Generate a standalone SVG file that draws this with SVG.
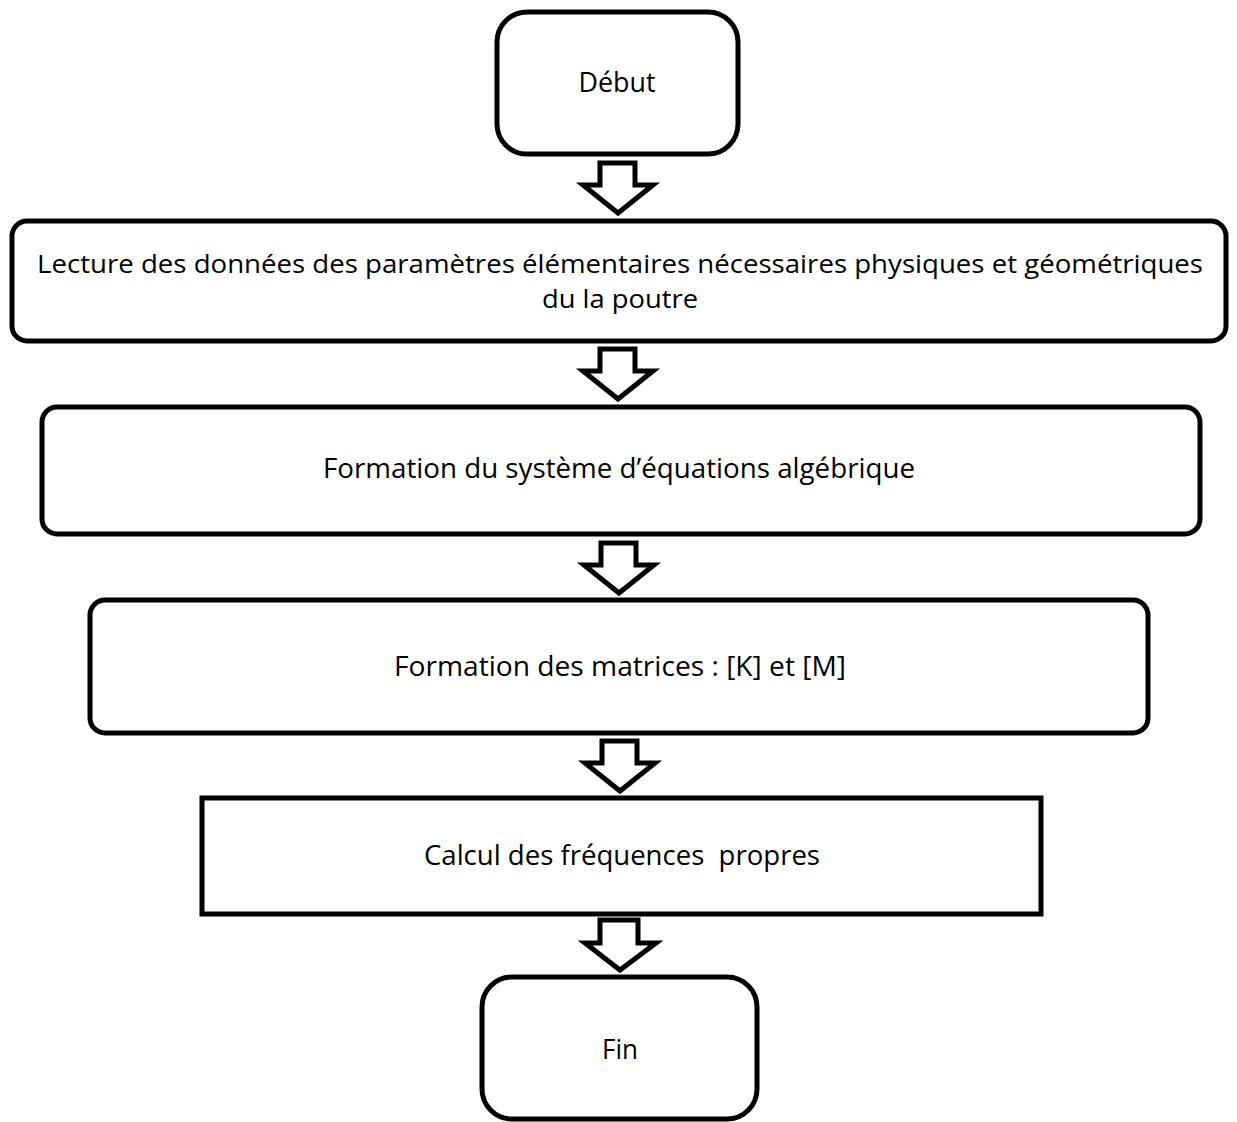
<svg xmlns="http://www.w3.org/2000/svg" width="1237" height="1122" viewBox="0 0 1237 1122">
<style>
.box{fill:#fff;stroke:#000;stroke-width:5}
.arr{fill:#fff;stroke:#000;stroke-width:5;stroke-linejoin:miter}
.t{font-family:"Open Sans","Liberation Sans",sans-serif;font-size:27px;fill:#000;text-anchor:middle}
.s{font-size:26px}
</style>
<rect width="1237" height="1122" fill="#fff"/>
<g id="connectors">
<path class="arr" d="M600,163 H635 V185 H653 L618,213 L583,185 H600 Z"/>
<path class="arr" d="M600,349 H635 V371 H653 L618,399 L583,371 H600 Z"/>
<path class="arr" d="M601,543 H636 V565 H654 L619,593 L584,565 H601 Z"/>
<path class="arr" d="M602,741 H637 V763 H655 L620,791 L585,763 H602 Z"/>
<path class="arr" d="M600,920 H638 V943 H656 L620,970 L585,943 H600 Z"/>
</g>
<g id="debut">
<rect class="box" x="497" y="12" width="241" height="142" rx="30"/>
<text class="t" x="617" y="92" textLength="77" lengthAdjust="spacingAndGlyphs">Début</text>
</g>
<g id="lecture">
<rect class="box" x="12" y="221" width="1214" height="120" rx="15"/>
<text class="t s" x="620" y="273" textLength="1166" lengthAdjust="spacingAndGlyphs">Lecture des données des paramètres élémentaires nécessaires physiques et géométriques</text>
<text class="t s" x="620" y="308" textLength="156" lengthAdjust="spacingAndGlyphs">du la poutre</text>
</g>
<g id="systeme">
<rect class="box" x="42" y="407" width="1158" height="127" rx="15"/>
<text class="t" x="619" y="478" textLength="592" lengthAdjust="spacingAndGlyphs">Formation du système d’équations algébrique</text>
</g>
<g id="matrices">
<rect class="box" x="90" y="600" width="1058" height="133" rx="15"/>
<text class="t" x="620" y="676" textLength="452" lengthAdjust="spacingAndGlyphs">Formation des matrices : [K] et [M]</text>
</g>
<g id="calcul">
<rect class="box" x="202" y="798" width="839" height="116"/>
<text class="t" x="622" y="865" textLength="396" lengthAdjust="spacingAndGlyphs" xml:space="preserve">Calcul des fréquences  propres</text>
</g>
<g id="fin">
<rect class="box" x="482" y="977" width="275" height="142" rx="30"/>
<text class="t" x="620" y="1059" textLength="36" lengthAdjust="spacingAndGlyphs">Fin</text>
</g>
</svg>
